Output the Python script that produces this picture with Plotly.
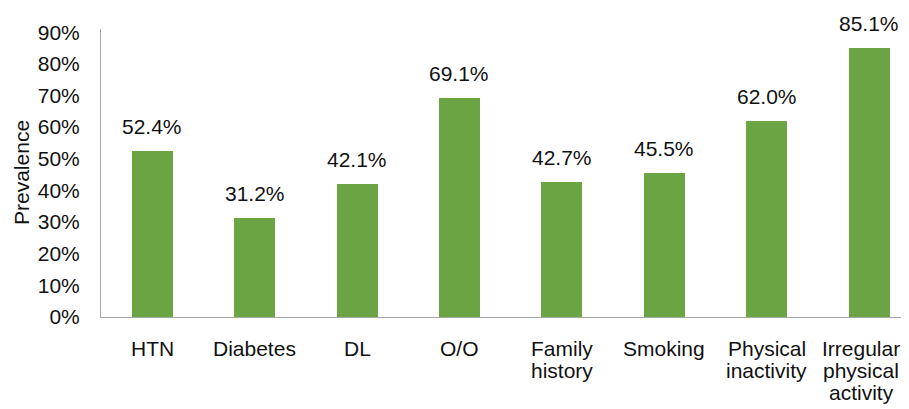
import plotly.graph_objects as go

categories = ["HTN", "Diabetes", "DL", "O/O", "Family<br>history", "Smoking",
              "Physical<br>inactivity", "Irregular<br>physical<br>activity"]
values = [52.4, 31.2, 42.1, 69.1, 42.7, 45.5, 62.0, 85.1]
tick_vals = [0, 10, 20, 30, 40, 50, 60, 70, 80, 90]
tick_text = [f"{v}%" for v in tick_vals]
labels = [f"{v:.1f}%" for v in values]

FONT = "Liberation Sans, Arial, sans-serif"
FS = 21
x_idx = list(range(len(categories)))

fig = go.Figure()
fig.add_trace(go.Bar(
    x=x_idx, y=values, width=0.4,
    marker=dict(color="#6aa443", line=dict(width=0)),
    hoverinfo="skip",
))
for xi, v, t in zip(x_idx, values, labels):
    fig.add_annotation(x=xi, y=v, text=t, showarrow=False, yanchor="bottom",
                       yshift=11, font=dict(family=FONT, size=FS, color="#111111"))

# category labels, one annotation per line for tight line spacing
n = len(categories)
for xi, cat in zip(x_idx, categories):
    for li, line in enumerate(cat.split("<br>")):
        fig.add_annotation(x=xi, xref="x", y=0, yref="paper", text=line,
                           showarrow=False, yanchor="middle",
                           yshift=-(31 + li * 22),
                           xshift=(-8 if xi == n - 1 else 0),
                           font=dict(family=FONT, size=FS, color="#111111"))

# y-axis title
fig.add_annotation(x=-(101 - 21) / 808, xref="paper", y=0.5, yref="paper",
                   text="Prevalence", textangle=-90, showarrow=False,
                   xanchor="center", yanchor="middle",
                   font=dict(family=FONT, size=FS, color="#111111"))

# page body has an 8px margin, so the figure is 8px smaller
fig.update_layout(
    width=901, height=401,
    margin=dict(l=93, r=0, t=21, b=92),
    paper_bgcolor="white", plot_bgcolor="white",
    font=dict(family=FONT, size=FS, color="#111111"),
    showlegend=False,
    bargap=0,
)
fig.update_xaxes(
    range=[-0.5, 7.39], tickvals=x_idx, showticklabels=False,
    showline=True, linecolor="#a6a6a6", linewidth=1,
    showgrid=False, ticks="", zeroline=False, automargin=False,
)
fig.update_yaxes(
    range=[0, 91], tickvals=tick_vals, ticktext=tick_text,
    showline=True, linecolor="#a6a6a6", linewidth=1,
    showgrid=False, ticks="", ticklabelstandoff=16, zeroline=False,
    tickfont=dict(size=FS), automargin=False,
)
fig.write_html("out.html")
